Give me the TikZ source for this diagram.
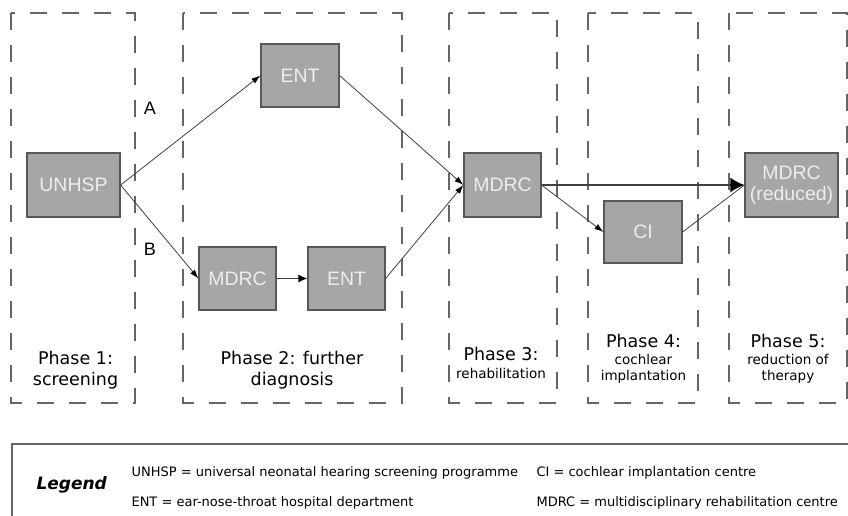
\documentclass[tikz,border=0pt]{standalone}
\usepackage{fontspec}
\setmainfont{DejaVu Sans}
\newfontfamily\arialf{Liberation Sans}
\usetikzlibrary{arrows.meta}
\definecolor{boxfill}{HTML}{A6A6A6}
\definecolor{boxdraw}{HTML}{585858}
\definecolor{dashc}{HTML}{666666}
\definecolor{arrc}{HTML}{404040}
\begin{document}
\begin{tikzpicture}[x=1pt,y=-1pt,
  stage/.style={draw=boxdraw, line width=1.2pt, fill=boxfill, text=white!93!black,
    font=\arialf\fontsize{19.5}{21}\selectfont, align=center, inner sep=0pt,
    minimum width=77pt, minimum height=63pt},
  phasebox/.style={draw=dashc, line width=1.3pt, dash pattern=on 17pt off 15pt},
  flow/.style={draw=arrc, line width=0.8pt, -{Latex[length=9pt,width=6pt,color=black]}},
  big/.style={font=\fontsize{17.5}{21}\selectfont, anchor=base},
  small/.style={font=\fontsize{13.5}{16}\selectfont, anchor=base},
  leg/.style={font=\fontsize{13}{16}\selectfont, anchor=base west},
  lab/.style={font=\arialf\fontsize{18}{20}\selectfont, anchor=base}
]
\useasboundingbox (0,0) rectangle (848,516);
% phase frames
\draw[phasebox] (11,13) rectangle (135,403);
\draw[phasebox] (183,13) rectangle (402,403);
\draw[phasebox] (449,13) rectangle (557,403);
\draw[phasebox] (588,13) rectangle (698,403);
\draw[phasebox] (729,13) rectangle (847,403);
% stage boxes
\node[stage, minimum width=93pt, minimum height=64pt] (unhsp) at (73.5,185) {UNHSP};
\node[stage, minimum width=78pt] (entA) at (300,75.5) {ENT};
\node[stage] (mdrcB) at (237.5,278.5) {MDRC};
\node[stage] (entB) at (346.5,278.5) {ENT};
\node[stage, minimum height=64pt] (mdrc) at (502.5,185) {MDRC};
\node[stage, minimum width=78pt, minimum height=62pt] (ci) at (643,232) {CI};
\node[stage, minimum width=93pt, minimum height=64pt] (red) at (791.5,185) {MDRC\\(reduced)};
% path labels
\node[lab] (la) at (150,115) {A};
\node[lab] (lb) at (150,255) {B};
% connectors
\draw[flow] (unhsp.east) -- (entA.west);
\draw[flow] (unhsp.east) -- (mdrcB.west);
\draw[flow, line width=1.3pt, -{Latex[length=9pt,width=8pt,color=black]}] (mdrcB.east) -- (entB.west);
\draw[flow] (entA.east) -- (mdrc.west);
\draw[flow] (entB.east) -- (mdrc.west);
\draw[flow, line width=1.8pt, -{Latex[length=14pt,width=15pt,color=black]}] (mdrc.east) -- (red.west);
\draw[flow] (mdrc.east) -- (ci.west);
\draw[draw=arrc, line width=0.8pt] (ci.east) -- (red.west);
% phase labels
\node[big] (p1a) at (75.5,364) {Phase 1:};
\node[big] (p1b) at (75.5,385) {screening};
\node[big] (p2a) at (292,364) {Phase 2: further};
\node[big] (p2b) at (292,385) {diagnosis};
\node[big] (p3a) at (501,360) {Phase 3:};
\node[small] (p3b) at (501,378) {rehabilitation};
\node[big] (p4a) at (643.5,347) {Phase 4:};
\node[small] (p4b) at (643.5,364) {cochlear};
\node[small] (p4c) at (643.5,380) {implantation};
\node[big] (p5a) at (788,347) {Phase 5:};
\node[small] (p5b) at (788,364) {reduction of};
\node[small] (p5c) at (788,380) {therapy};
% legend
\draw[draw=dashc, line width=1.2pt] (12,517) -- (12,444) -- (849,444);
\node[font=\bfseries\itshape\fontsize{17}{20}\selectfont, anchor=base west] (lg) at (33,489) {Legend};
\node[leg] (l1) at (128,476) {UNHSP = universal neonatal hearing screening programme};
\node[leg] (l2) at (128,506) {ENT = ear-nose-throat hospital department};
\node[leg] (l3) at (533,476) {CI = cochlear implantation centre};
\node[leg] (l4) at (533,506) {MDRC = multidisciplinary rehabilitation centre};
\end{tikzpicture}
\end{document}
